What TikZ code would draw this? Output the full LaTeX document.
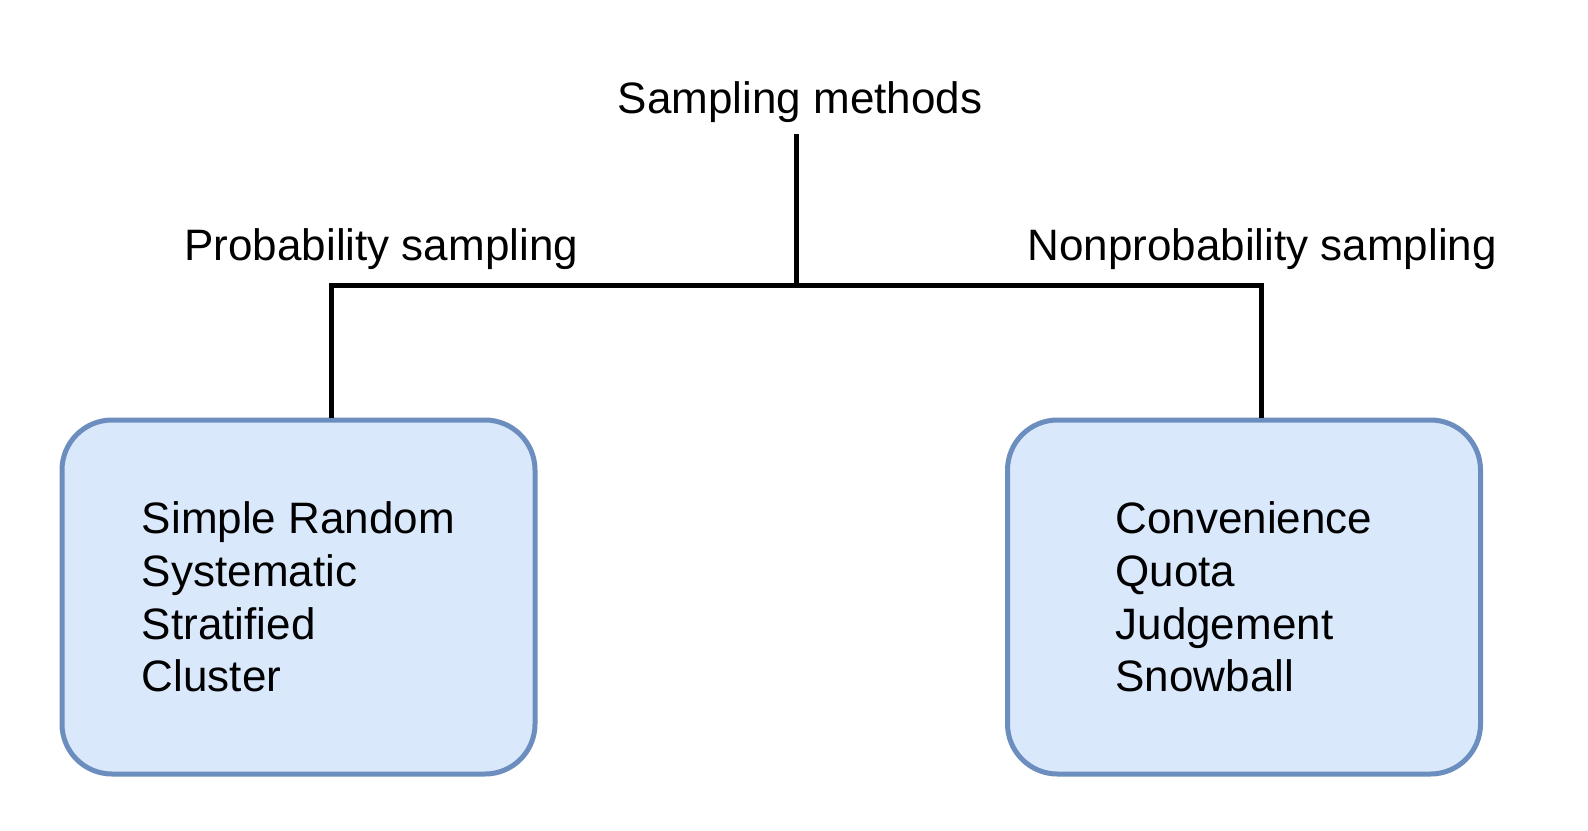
\documentclass[tikz,border=0pt]{standalone}
\usepackage{fontspec}
\setmainfont{Liberation Sans}
\definecolor{boxfill}{HTML}{DAE8FC}
\definecolor{boxline}{HTML}{6C8EBF}
\begin{document}
\begin{tikzpicture}[x=0.5pt,y=-0.5pt,
  lbl/.style={inner sep=0pt, font=\fontsize{22pt}{26.35pt}\selectfont},
  groupbox/.style={draw=boxline, fill=boxfill, line width=2.5pt,
    rounded corners=25pt, minimum width=236.5pt, minimum height=177pt,
    inner sep=0pt, align=left, font=\fontsize{22pt}{26.35pt}\selectfont},
  link/.style={draw=black, line width=2.5pt}]
\fill[white] (0,0) rectangle (1588,830);
\useasboundingbox (0,0) rectangle (1588,830);

\node[lbl, anchor=base] (root) at (800,113) {Sampling methods};
\node[lbl, anchor=base west] (plabel) at (184,260) {Probability sampling};
\node[lbl, anchor=base west] (nlabel) at (1027,260) {Nonprobability sampling};

\node[groupbox] (lbox) at (298.5,597) {Simple Random\\Systematic\\Stratified\\Cluster};
\node[groupbox] (rbox) at (1244,597) {Convenience\\Quota\\Judgement\\Snowball};

\coordinate (top) at (796,134);
\coordinate (junc) at (796,285);
\coordinate (lj) at (331,285);
\coordinate (rj) at (1261,285);

\draw[link] (top) -- (junc);
\draw[link] (lj |- lbox.north) -- (lj) -- (rj) -- (rj |- rbox.north);
\end{tikzpicture}
\end{document}
